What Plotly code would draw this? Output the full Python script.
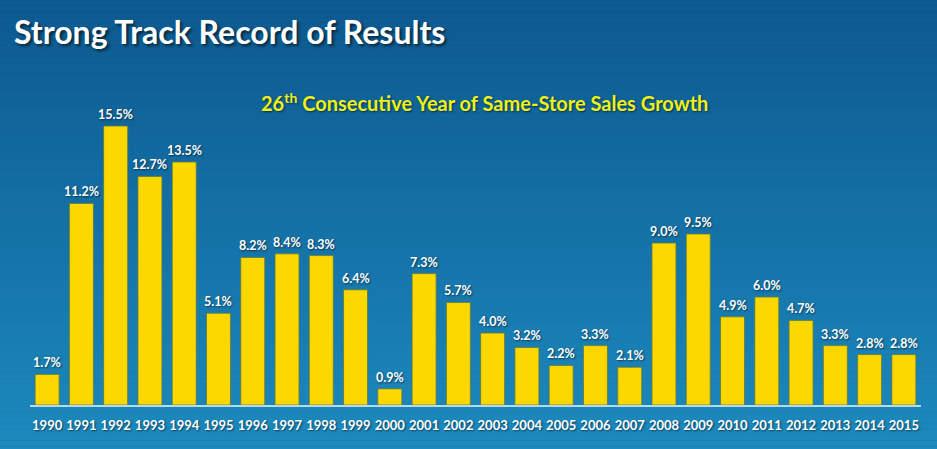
import plotly.graph_objects as go

years = [str(y) for y in range(1990, 2016)]
growth = [1.7, 11.2, 15.5, 12.7, 13.5, 5.1, 8.2, 8.4, 8.3, 6.4, 0.9, 7.3, 5.7,
          4.0, 3.2, 2.2, 3.3, 2.1, 9.0, 9.5, 4.9, 6.0, 4.7, 3.3, 2.8, 2.8]
labels = [f"{v:.1f}%" for v in growth]

title_text = "Strong Track Record of Results"
subtitle_text = "26<sup>th</sup> Consecutive Year of Same-Store Sales Growth"

W, H = 937, 449
ML, MR, MT, MB = 30, 16, 91, 44
PW, PH = W - ML - MR, H - MT - MB

fig = go.Figure()
fig.add_trace(go.Bar(
    x=years, y=growth,
    marker=dict(color="#fcd800", line=dict(color="#5f7a3a", width=0.8)),
    width=0.7, hoverinfo="x+y",
))

shadow = "1px 1px 2px rgba(0,0,0,0.55)"
annotations = []
for i, (v, lab) in enumerate(zip(growth, labels)):
    annotations.append(dict(
        x=i, y=v, xref="x", yref="y", text=lab, showarrow=False,
        yanchor="bottom", yshift=2,
        font=dict(family="Lato", size=12.5, color="white", weight="bold", shadow=shadow),
    ))
annotations.append(dict(
    x=(12 - ML) / PW, y=(H - 32 - MB) / PH, xref="paper", yref="paper",
    text=title_text, showarrow=False, xanchor="left", yanchor="middle",
    font=dict(family="Lato", size=32, color="white", weight="bold",
              shadow="2px 2px 3px rgba(0,0,0,0.6)"),
))
annotations.append(dict(
    x=(484 - ML) / PW, y=(H - 102 - MB) / PH, xref="paper", yref="paper",
    text=subtitle_text, showarrow=False, xanchor="center", yanchor="middle",
    font=dict(family="Lato", size=20, color="#eef21a", weight="bold", shadow=shadow),
))

# background gradient bands
shapes = []
n = 80
top = (12, 88, 142)
bot = (28, 138, 190)
y0p, y1p = -MB / PH - 0.01, 1 + MT / PH + 0.01
x0p, x1p = -ML / PW - 0.01, 1 + MR / PW + 0.01
for i in range(n):
    t = i / (n - 1)
    c = tuple(int(round(top[k] + (bot[k] - top[k]) * t)) for k in range(3))
    ya = y1p - (y1p - y0p) * i / n
    yb = y1p - (y1p - y0p) * (i + 1) / n
    shapes.append(dict(type="rect", xref="paper", yref="paper", x0=x0p, x1=x1p,
                       y0=yb, y1=ya, fillcolor=f"rgb{c}", line=dict(width=0), layer="below"))

fig.update_layout(
    width=W, height=H,
    margin=dict(l=ML, r=MR, t=MT, b=MB),
    paper_bgcolor="#1a70a8", plot_bgcolor="rgba(0,0,0,0)",
    showlegend=False, bargap=0.3,
    shapes=shapes, annotations=annotations,
    xaxis=dict(type="category", range=[-0.5, len(years) - 0.5], showgrid=False,
               zeroline=False, showline=True,
               linecolor="#b8d8ee", linewidth=1.5, ticks="", ticklabelstandoff=8,
               tickfont=dict(family="Lato", size=13, color="white", weight="bold", shadow=shadow)),
    yaxis=dict(range=[0, PH / 18.0], visible=False, showgrid=False, zeroline=False),
)

fig.write_html("out.html", config={"displayModeBar": False},
               post_script="document.body.style.margin='0';document.body.style.overflow='hidden';")
